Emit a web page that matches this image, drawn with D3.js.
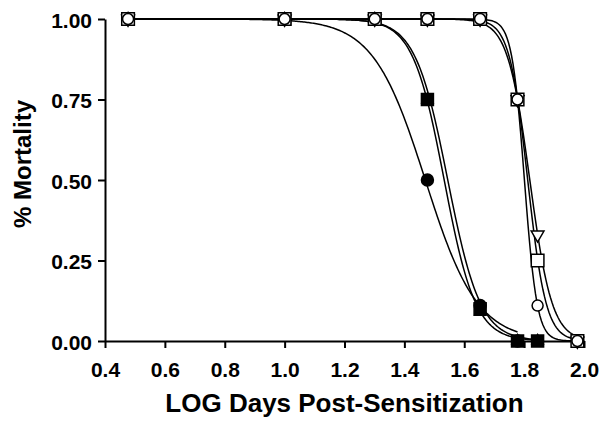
<!DOCTYPE html>
<html>
<head>
<meta charset="utf-8">
<script src="https://cdn.jsdelivr.net/npm/d3@7"></script>
<style>
  html, body { margin: 0; padding: 0; background: #fff; }
  svg { display: block; font-family: "Liberation Sans", Arial, sans-serif; }
  .axis text { font-size: 21px; font-weight: 700; fill: #000; }
  .axis path, .axis line { stroke: #000; stroke-width: 2; }
</style>
</head>
<body>
<svg id="chart" width="605" height="421"></svg>
<script>
// Sampling days on a log10 scale (3, 10, 20, 30, 45, 60, 70, 95 days)
const logDays = [0.477, 1.0, 1.301, 1.477, 1.653, 1.778, 1.845, 1.978];

// Fraction dead at each sampling day; null = not sampled
const filledTriangle = [1, 1, 1, 0.75, 0.09, 0.00, 0.00, null];
const filledSquare   = [1, 1, 1, 0.75, 0.10, 0.00, 0.00, null];
const filledCircle   = [1, 1, 1, 0.50, 0.11, 0.00, null, null];
const openTriangle   = [1, 1, 1, 1, 1, 0.75, 0.33, 0.00];
const openSquare     = [1, 1, 1, 1, 1, 0.75, 0.25, 0.00];
const openCircle     = [1, 1, 1, 1, 1, 0.75, 0.11, 0.00];

// Sigmoidal fit of each series (top 1, bottom 0)
const fitLogEC50 = [1.545, 1.533, 1.470, 1.819, 1.812, 1.801];
const fitHill    = [8.0, 8.3, 5.0, 11.7, 14.2, 20.7];

const xTicks = [0.4, 0.6, 0.8, 1.0, 1.2, 1.4, 1.6, 1.8, 2.0];
const yTicks = [0, 0.25, 0.5, 0.75, 1.0];

(function () {
  "use strict";
  const W = 605, H = 421;
  const margin = { top: 19, right: 21, bottom: 80, left: 105 };
  const innerW = W - margin.left - margin.right;
  const innerH = H - margin.top - margin.bottom;

  const x = d3.scaleLinear().domain([0.4, 2.0]).range([0, innerW]);
  const y = d3.scaleLinear().domain([0, 1]).range([innerH, 0]);

  const svg = d3.select("#chart");
  const root = svg.append("g").attr("transform", `translate(${margin.left},${margin.top})`);

  // Axes
  root.append("g").attr("class", "axis")
      .attr("transform", `translate(0,${innerH})`)
      .call(d3.axisBottom(x).tickValues(xTicks).tickFormat(d3.format(".1f"))
        .tickSize(7).tickSizeOuter(0).tickPadding(14));
  root.append("g").attr("class", "axis")
      .call(d3.axisLeft(y).tickValues(yTicks).tickFormat(d3.format(".2f"))
        .tickSize(7).tickSizeOuter(0).tickPadding(6))
      .selectAll("text").attr("dy", "0.4em");

  svg.append("text")
      .attr("x", margin.left + innerW / 2).attr("y", 412)
      .attr("text-anchor", "middle")
      .attr("font-size", 26).attr("font-weight", 700)
      .text("LOG Days Post-Sensitization");
  svg.append("text")
      .attr("transform", "translate(31,164) rotate(-90)")
      .attr("text-anchor", "middle")
      .attr("font-size", 24).attr("font-weight", 700)
      .text("% Mortality");

  const series = [
    { values: filledTriangle, shape: d3.symbolTriangle, size: 55, flip: false, fill: "#000" },
    { values: filledSquare,   shape: d3.symbolSquare,   size: 144, flip: false, fill: "#000" },
    { values: filledCircle,   shape: d3.symbolCircle,   size: 113, flip: false, fill: "#000" },
    { values: openTriangle,   shape: d3.symbolTriangle, size: 70, flip: true, fill: "#fff" },
    { values: openSquare,     shape: d3.symbolSquare,   size: 160, flip: false, fill: "#fff" },
    { values: openCircle,     shape: d3.symbolCircle,   size: 95, flip: false, fill: "#fff" },
  ];
  series.forEach((s, i) => {
    s.points = logDays.map((d, j) => ({ x: d, y: s.values[j] })).filter(p => p.y !== null);
    s.ec50 = fitLogEC50[i];
    s.hill = fitHill[i];
  });

  // Fitted curves, drawn over each series' sampled range
  const line = d3.line().x(d => x(d[0])).y(d => y(d[1]));
  series.forEach(s => {
    const x0 = s.points[0].x, x1 = s.points[s.points.length - 1].x;
    const pts = d3.range(0, 301).map(k => {
      const xv = x0 + (x1 - x0) * k / 300;
      return [xv, 1 / (1 + Math.pow(10, (xv - s.ec50) * s.hill))];
    });
    root.append("path")
      .attr("d", line(pts))
      .attr("fill", "none").attr("stroke", "#000").attr("stroke-width", 1.5);
  });

  // Markers
  series.forEach(s => {
    const sym = d3.symbol().type(s.shape).size(s.size);
    root.append("g").selectAll("path").data(s.points).enter().append("path")
      .attr("transform", d => `translate(${x(d.x)},${y(d.y)})` + (s.flip ? " rotate(180)" : ""))
      .attr("d", sym)
      .attr("fill", s.fill).attr("stroke", "#000").attr("stroke-width", 1.5);
  });
})();
</script>
</body>
</html>
